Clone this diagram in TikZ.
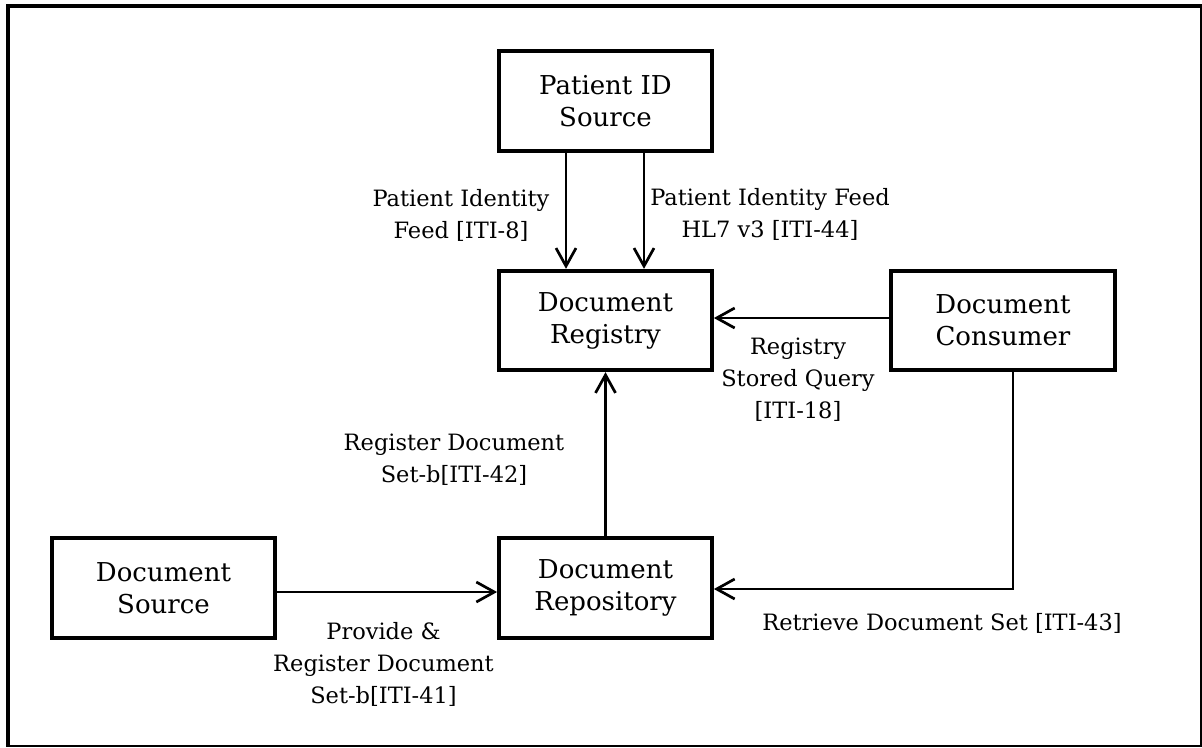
\documentclass[tikz,border=0pt]{standalone}
\usepackage{fontspec}
\setmainfont{DejaVu Serif}
\usetikzlibrary{arrows.meta,calc}
\tikzset{
  actor/.style={draw, line width=3.8pt, rectangle, minimum height=99.5pt, inner sep=0pt, align=center, font=\fontsize{26}{32}\selectfont},
  conn/.style={line width=2.7pt, -{Straight Barb[length=18pt,width=20pt]}},
  lbl/.style={align=center, inner sep=0pt, anchor=base, font=\fontsize{22.5}{32}\selectfont},
}
\begin{document}
\begin{tikzpicture}[x=1pt,y=-1pt]
\useasboundingbox (0,0) rectangle (1202,747);
% frame
\draw[line width=1.3pt] (8,6) rectangle (1201,746);
\draw[line width=4pt] (6,6) -- (1202,6);
\draw[line width=4pt] (8,4) -- (8,747);
% actors
\node[actor, minimum width=213pt] (pid) at (605.5,101) {Patient ID\\Source};
\node[actor, minimum width=213pt] (reg) at (605.5,320.5) {Document\\Registry};
\node[actor, minimum width=213pt] (rep) at (605.5,588) {Document\\Repository};
\node[actor, minimum width=223pt] (src) at (163.5,588) {Document\\Source};
\node[actor, minimum width=224pt] (con) at (1003,320.5) {Document\\Consumer};
% connectors
\draw[conn] ([xshift=-39.5pt]pid.south) -- ([xshift=-39.5pt]reg.north);
\draw[conn] ([xshift=38.5pt]pid.south) -- ([xshift=38.5pt]reg.north);
\draw[conn] ([yshift=2.5pt]con.west) -- ([yshift=2.5pt]reg.east);
\draw[conn] (rep.north) -- (reg.south);
\draw[conn] ([yshift=-4pt]src.east) -- ([yshift=-4pt]rep.west);
\draw[conn] ([xshift=10pt]con.south) |- ([yshift=-1pt]rep.east);
% labels (anchored at the baseline of the last line)
\node[lbl] (l1) at (461,238) {Patient Identity\\Feed [ITI-8]};
\node[lbl] (l2) at (770,237) {Patient Identity Feed\\HL7 v3 [ITI-44]};
\node[lbl] (l3) at (798,418) {Registry\\Stored Query\\{}[ITI-18]};
\node[lbl] (l4) at (454,482) {Register Document\\Set-b[ITI-42]};
\node[lbl] (l5) at (383.5,703) {Provide \&\\Register Document\\Set-b[ITI-41]};
\node[lbl] (l6) at (942,630) {Retrieve Document Set [ITI-43]};
\end{tikzpicture}
\end{document}
